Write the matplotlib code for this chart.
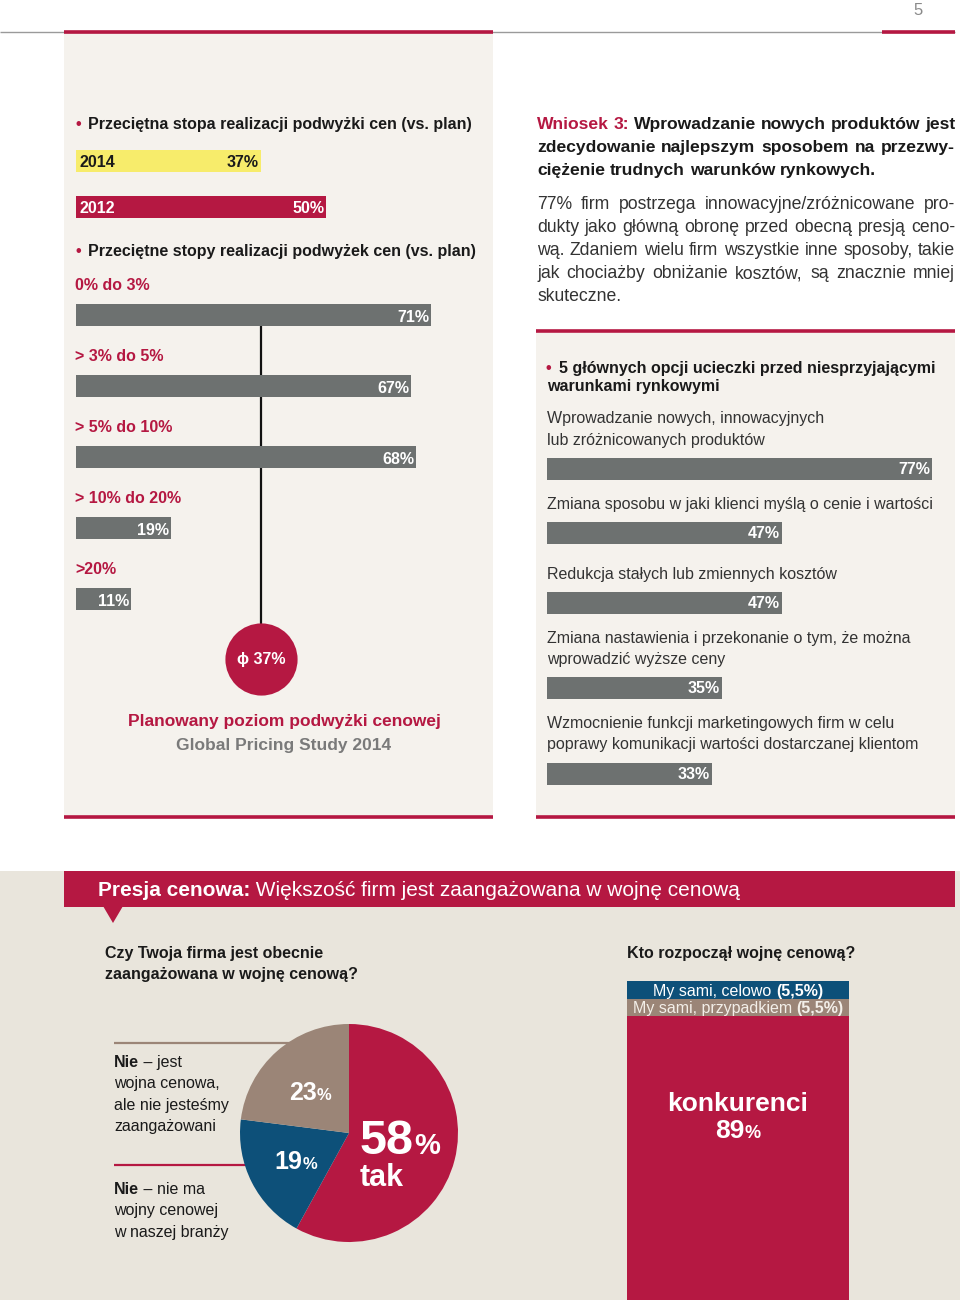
import numpy as np
import matplotlib
matplotlib.use('Agg')
import matplotlib.pyplot as plt
from matplotlib.patches import Rectangle, Polygon

plt.rcParams['font.family'] = ['Liberation Sans', 'DejaVu Sans']

# ---------------- data ----------------
avg_years = ['2014', '2012']
avg_values = [37, 50]
bands = ['0% do 3%', '> 3% do 5%', '> 5% do 10%', '> 10% do 20%', '>20%']
band_values = [71, 67, 68, 19, 11]
planned_avg = 37
options = ['Wprowadzanie nowych, innowacyjnych\nlub zróżnicowanych produktów',
           'Zmiana sposobu w jaki klienci myślą o cenie i wartości',
           'Redukcja stałych lub zmiennych kosztów',
           'Zmiana nastawienia i przekonanie o tym, że można\nwprowadzić wyższe ceny',
           'Wzmocnienie funkcji marketingowych firm w celu\npoprawy komunikacji wartości dostarczanej klientom']
option_values = [77, 47, 47, 35, 33]
war_labels = ['tak', 'Nie|– nie ma\nwojny cenowej\nw naszej branży',
              'Nie|– jest\nwojna cenowa,\nale nie jesteśmy\nzaangażowani']
war_values = [58, 19, 23]
starter_labels = ['My sami, celowo', 'My sami, przypadkiem', 'konkurenci']
starter_values = [5.5, 5.5, 89]

# ---------------- style ----------------
CRIMSON = '#b51842'
GRAY_BAR = '#6d7170'
YELLOW = '#f7ec6b'
NAVY = '#0d5079'
TAUPE = '#9b8577'
PANEL = '#f5f2ed'
BOTTOM = '#e9e5dc'
TXT = '#1a1a1a'
BODY = '#333333'

W, H = 960, 1300
PT = 100 / 72
fig = plt.figure(figsize=(W / 100, H / 100), dpi=100)
fig.patch.set_facecolor('white')

bg = fig.add_axes([0, 0, 1, 1])
bg.set_xlim(0, W); bg.set_ylim(H, 0); bg.axis('off'); bg.set_zorder(0)

ov = fig.add_axes([0, 0, 1, 1])
ov.set_xlim(0, W); ov.set_ylim(H, 0); ov.axis('off'); ov.set_zorder(5)

R = fig.canvas.get_renderer()


def px_axes(x, y, w, h, z=1):
    ax = fig.add_axes([x / W, 1 - (y + h) / H, w / W, h / H])
    ax.axis('off'); ax.set_zorder(z)
    return ax


def tw(s, size, weight='normal'):
    t = ov.text(0, 0, s, fontsize=size, fontweight=weight)
    w = t.get_window_extent(renderer=R).width
    t.remove()
    return w


def T(x, yc, s, size, color=TXT, weight='normal', ha='left'):
    return ov.text(x, yc + 0.36 * size * PT, s, fontsize=size, color=color,
                   fontweight=weight, ha=ha, va='baseline')


def runs(x, yb, parts, ha='left'):
    # parts: list of (text, size, weight, color); yb: baseline
    widths = [tw(p[0], p[1], p[2]) for p in parts]
    total = sum(widths)
    if ha == 'center':
        x -= total / 2
    elif ha == 'right':
        x -= total
    for (s, size, weight, color), w in zip(parts, widths):
        ov.text(x, yb, s, fontsize=size, fontweight=weight, color=color,
                ha='left', va='baseline')
        x += w


def justify(lines, x0, x1, yc0, dy, size, color, weight, special=None):
    special = special or {}
    sp = tw('a a', size, weight) - tw('aa', size, weight)
    for i, line in enumerate(lines):
        words = line.split(' ')
        widths = [tw(w, size, weight) for w in words]
        last = i == len(lines) - 1
        if last or len(words) == 1:
            gap = sp
        else:
            gap = max((x1 - x0 - sum(widths)) / (len(words) - 1), sp * 0.6)
        x = x0
        for j, (w, wd) in enumerate(zip(words, widths)):
            c = special.get((i, j), color)
            ov.text(x, yc0 + i * dy + 0.36 * size * PT, w, fontsize=size,
                    fontweight=weight, color=c, ha='left', va='baseline')
            x += wd + gap


# ---------------- backgrounds ----------------
bg.add_patch(Rectangle((64, 33), 429, 784, fc=PANEL, ec='none'))
bg.add_patch(Rectangle((536, 333), 419, 484, fc=PANEL, ec='none'))
bg.add_patch(Rectangle((0, 871), W, H - 871, fc=BOTTOM, ec='none'))
bg.plot([0, 955], [32, 32], color='#9a9a9a', lw=1.0, solid_capstyle='butt')
for xa, xb, yy in [(64, 493, 32), (882, 955, 32), (64, 493, 817), (536, 955, 817), (536, 955, 331)]:
    bg.plot([xa, xb], [yy, yy], color=CRIMSON, lw=2.6, solid_capstyle='butt')
bg.add_patch(Rectangle((64, 871), 891, 36, fc=CRIMSON, ec='none'))
bg.add_patch(Polygon([(103, 906), (123, 906), (113, 923)], closed=True, fc=CRIMSON, ec='none'))

T(918, 9, '5', 12, color='#8a8a8a', ha='center')

# ---------------- left panel ----------------
T(75, 123, '•', 11.5, color=CRIMSON, weight='bold')
T(88, 123, 'Przeciętna stopa realizacji podwyżki cen (vs. plan)', 11.5, weight='bold')

ax1 = px_axes(76, 138, 500, 92)
ax1.set_xlim(0, 100); ax1.set_ylim(1.5, -0.5)
ax1.barh(range(len(avg_values)), avg_values, height=22 / 46, color=[YELLOW, CRIMSON])
for i, (yr, v) in enumerate(zip(avg_years, avg_values)):
    c = TXT if i == 0 else 'white'
    ax1.text(0.8, i + 0.04, yr, ha='left', va='center', fontsize=11.5, fontweight='bold', color=c)
    ax1.text(v - 0.4, i + 0.04, f'{v}%', ha='right', va='center', fontsize=11.5, fontweight='bold', color=c)

T(75, 250, '•', 11.5, color=CRIMSON, weight='bold')
T(88, 250, 'Przeciętne stopy realizacji podwyżek cen (vs. plan)', 11.5, weight='bold')

ax2 = px_axes(76, 279.5, 500, 426)
ax2.set_xlim(0, 100); ax2.set_ylim(5.5, -0.5)
circ_row = 4.845
ax2.plot([planned_avg, planned_avg], [0, circ_row], color='#111111', lw=1.6, zorder=1)
ax2.barh(range(len(band_values)), band_values, height=22 / 71, color=GRAY_BAR, zorder=2)
ax2.scatter([planned_avg], [circ_row], s=2700, color=CRIMSON, linewidths=0, zorder=3)
for i, (b, v) in enumerate(zip(bands, band_values)):
    ax2.text(-0.2, i - 0.41, b, ha='left', va='center', fontsize=11.5, fontweight='bold', color=CRIMSON)
    ax2.text(v - 0.4, i + 0.03, f'{v}%', ha='right', va='center', fontsize=11.5, fontweight='bold', color='white')
ax2.text(planned_avg, circ_row + 0.01, f'ϕ {planned_avg}%', ha='center', va='center', fontsize=11.5,
         fontweight='bold', color='white', zorder=4)

T(284, 720, 'Planowany poziom podwyżki cenowej', 12.5, color=CRIMSON, weight='bold', ha='center')
T(284, 744, 'Global Pricing Study 2014', 12.5, color='#7a7a7a', weight='bold', ha='center')

# ---------------- right column ----------------
head = ['Wniosek 3: Wprowadzanie nowych produktów jest',
        'zdecydowanie najlepszym sposobem na przezwy-',
        'ciężenie trudnych warunków rynkowych.']
justify(head, 537, 955, 123, 23, 12.6, TXT, 'bold', special={(0, 0): CRIMSON, (0, 1): CRIMSON})
body = ['77% firm postrzega innowacyjne/zróżnicowane pro-',
        'dukty jako główną obronę przed obecną presją ceno-',
        'wą. Zdaniem wielu firm wszystkie inne sposoby, takie',
        'jak chociażby obniżanie kosztów, są znacznie mniej',
        'skuteczne.']
justify(body, 537, 955, 203, 23, 12.7, BODY, 'normal')

T(546, 367, '•', 11.5, color=CRIMSON, weight='bold')
T(559, 367, '5 głównych opcji ucieczki przed niesprzyjającymi', 11.5, weight='bold')
T(547, 385, 'warunkami rynkowymi', 11.5, weight='bold')

row_y = [469, 533, 603, 688, 773.5]
ax3 = px_axes(547, 400, 400, 400)
ax3.set_xlim(0, 80); ax3.set_ylim(800, 400)
ax3.barh(row_y, option_values, height=22, color=GRAY_BAR)
for y, lab, v in zip(row_y, options, option_values):
    ax3.text(v - 0.4, y + 0.5, f'{v}%', ha='right', va='center', fontsize=11.5, fontweight='bold', color='white')
    lines = lab.split('\n')
    for k, ln in enumerate(lines):
        yb = y - 24 - (len(lines) - 1 - k) * 21.5
        ov.text(547, yb, ln, fontsize=11.5, color=BODY, ha='left', va='baseline')

# ---------------- bottom section ----------------
runs(98, 889 + 0.36 * 15 * PT, [('Presja cenowa:', 15, 'bold', 'white'),
                                (' Większość firm jest zaangażowana w wojnę cenową', 15, 'normal', 'white')])
T(105, 952, 'Czy Twoja firma jest obecnie', 11.5, weight='bold')
T(105, 973, 'zaangażowana w wojnę cenową?', 11.5, weight='bold')
T(627, 952, 'Kto rozpoczął wojnę cenową?', 11.5, weight='bold')

# pie
bg.plot([114, 300], [1043, 1043], color=TAUPE, lw=1.6, solid_capstyle='butt')
bg.plot([114, 262], [1165, 1165], color=CRIMSON, lw=1.6, solid_capstyle='butt')
axp = px_axes(240, 1024, 218, 218, z=2)
axp.pie(war_values, colors=[CRIMSON, NAVY, TAUPE], startangle=90, counterclock=False,
        radius=1, wedgeprops=dict(linewidth=0))
axp.set_xlim(-1, 1); axp.set_ylim(-1, 1); axp.set_aspect('equal')

runs(310, 1100, [(f'{war_values[2]}', 18, 'bold', 'white'), ('%', 12, 'bold', 'white')], ha='center')
runs(296, 1169, [(f'{war_values[1]}', 18, 'bold', 'white'), ('%', 12, 'bold', 'white')], ha='center')
runs(360, 1154, [(f'{war_values[0]}', 35, 'bold', 'white'), ('%', 21, 'bold', 'white')])
ov.text(360, 1186, war_labels[0], fontsize=22, fontweight='bold', color='white', ha='left', va='baseline')

for lab, y0 in [(war_labels[2], 1061), (war_labels[1], 1188)]:
    lines = lab.split('\n')
    first_bold, first_rest = lines[0].split('|')
    runs(114, y0 + 0.36 * 11.5 * PT, [(first_bold, 11.5, 'bold', TXT), (' ' + first_rest, 11.5, 'normal', TXT)])
    for k, ln in enumerate(lines[1:], start=1):
        T(114, y0 + k * 21.5, ln, 11.5, color=TXT)

# stacked bar
axs = px_axes(627, 981, 222, 319, z=2)
axs.set_xlim(0, 1); axs.set_ylim(100, 0)
bottoms = np.concatenate([[0], np.cumsum(starter_values)[:-1]])
axs.bar([0.5] * len(starter_values), starter_values, bottom=bottoms, width=1,
        color=[NAVY, TAUPE, CRIMSON], linewidth=0)
inv = ov.transData.inverted()
for lab, v, b, col in zip(starter_labels[:2], starter_values[:2], bottoms[:2], ['white', '#f3efe9']):
    yc = inv.transform(axs.transData.transform((0.5, b + v / 2)))[1]
    pct = f'({v:.1f}%)'.replace('.', ',')
    runs(738, yc + 0.36 * 11.5 * PT, [(lab + ' ', 11.5, 'normal', col), (pct, 11.5, 'bold', col)], ha='center')
ov.text(738, 1111, starter_labels[2], fontsize=19, fontweight='bold', color='white', ha='center', va='baseline')
runs(738, 1138, [(f'{starter_values[2]:.0f}', 19, 'bold', 'white'), ('%', 13, 'bold', 'white')], ha='center')

fig.savefig('out.png', dpi=100, facecolor='white')
